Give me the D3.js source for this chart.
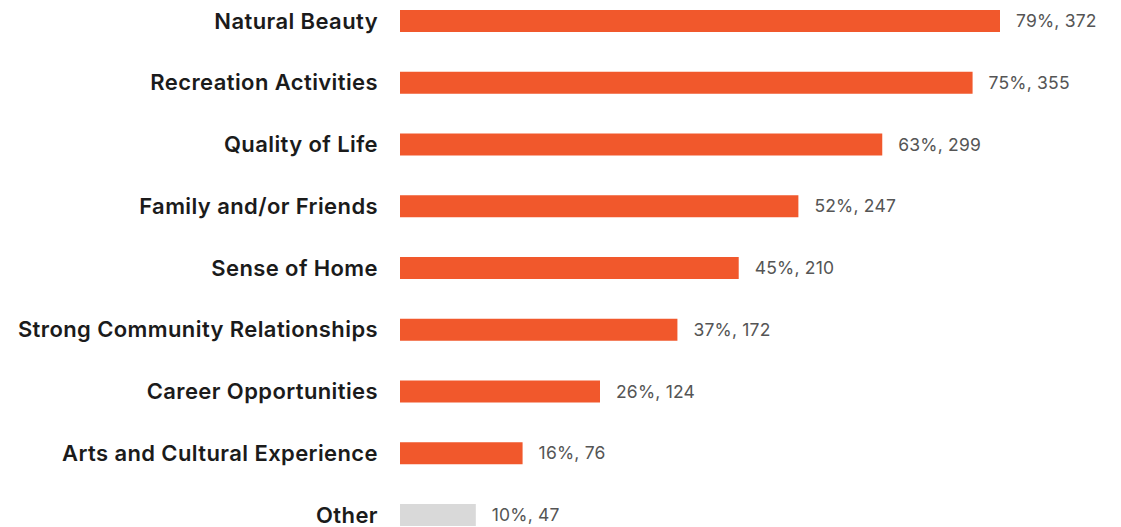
<!DOCTYPE html>
<html>
<head>
<meta charset="utf-8">
<script src="https://cdn.jsdelivr.net/npm/d3@7"></script>
<style>
  html, body { margin: 0; padding: 0; background: #ffffff; }
  svg { display: block; }
</style>
</head>
<body>
<svg id="chart" width="1121" height="527"></svg>
<script>
// Reasons respondents gave, with share and count of responses
const categories = [
  "Natural Beauty",
  "Recreation Activities",
  "Quality of Life",
  "Family and/or Friends",
  "Sense of Home",
  "Strong Community Relationships",
  "Career Opportunities",
  "Arts and Cultural Experience",
  "Other"
];
const percents = [79, 75, 63, 52, 45, 37, 26, 16, 10];
const counts = [372, 355, 299, 247, 210, 172, 124, 76, 47];
const highlighted = [true, true, true, true, true, true, true, true, false];

const rows = categories.map((c, i) => ({
  name: c, pct: percents[i], count: counts[i], main: highlighted[i]
}));

const svg = d3.select("#chart");

const x = d3.scaleLinear().domain([0, 372]).range([400, 1000]);
const y = d3.scalePoint().domain(categories).range([21, 515]);
const barH = 22;

// bars
svg.append("g").selectAll("rect")
  .data(rows)
  .join("rect")
  .attr("x", x(0))
  .attr("y", d => y(d.name) - barH / 2)
  .attr("width", d => x(d.count) - x(0))
  .attr("height", barH)
  .attr("fill", d => d.main ? "#F1582C" : "#D9D9D9");

// category labels
svg.append("g").selectAll("text")
  .data(rows)
  .join("text")
  .attr("x", 378)
  .attr("y", d => y(d.name))
  .attr("dy", "0.35em")
  .attr("text-anchor", "end")
  .attr("font-family", "Inter, sans-serif")
  .attr("font-weight", 600)
  .attr("font-size", 22)
  .attr("letter-spacing", 0.4)
  .attr("fill", "#1b1b1b")
  .text(d => d.name);

// value labels
svg.append("g").selectAll("text")
  .data(rows)
  .join("text")
  .attr("x", d => x(d.count) + 16)
  .attr("y", d => y(d.name))
  .attr("dy", "0.35em")
  .attr("font-family", "Inter, sans-serif")
  .attr("font-weight", 400)
  .attr("font-size", 17.5)
  .attr("letter-spacing", 0.2)
  .attr("fill", "#555555")
  .text(d => `${d.pct}%, ${d.count}`);
</script>
</body>
</html>
